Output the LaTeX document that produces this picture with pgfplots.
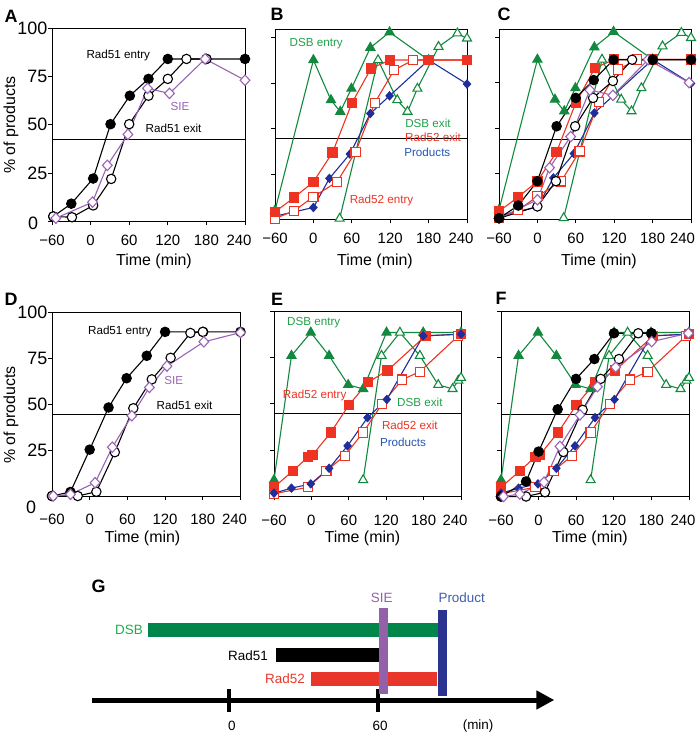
\documentclass[border=0pt]{standalone}
\usepackage{pgfplots}
\pgfplotsset{compat=1.18}
\usepackage{fontspec}
\setmainfont{Liberation Sans}
\usetikzlibrary{arrows.meta}
\definecolor{siec}{HTML}{9B63B5}
\definecolor{dsbc}{HTML}{12893F}
\definecolor{dsbtext}{HTML}{22A04A}
\definecolor{redc}{HTML}{EE3323}
\definecolor{bluec}{HTML}{1F2E9A}
\definecolor{prodtext}{HTML}{2456B4}
\definecolor{gdsb}{HTML}{00854A}
\definecolor{gdsbtext}{HTML}{1DAF4B}
\definecolor{gred}{HTML}{E8372A}
\definecolor{gsie}{HTML}{9460A8}
\definecolor{gprod}{HTML}{2A3390}
\definecolor{gprodtext}{HTML}{3E60AC}
\tikzset{lbl/.style={font=\fontsize{11.7}{12}\selectfont, inner sep=0pt},
  plab/.style={font=\bfseries\fontsize{18}{18}\selectfont, inner sep=0pt},
  tl/.style={font=\fontsize{16}{16}\selectfont, inner sep=0pt},
  gl/.style={font=\fontsize{13.5}{14}\selectfont, inner sep=0pt}}
\pgfplotsset{
  panel/.style={
    scale only axis, anchor=south west,
    xmin=-60, xmax=240, ymin=0,
    axis line style={line width=0.9bp},
    xtick={-60,0,60,120,180,240},
    xticklabels={−60,0,60,120,180,\hspace*{-12bp}240},
    ytick={0,25,50,75,100},
    yticklabels={},
    tick align=outside,
    xtick pos=left, ytick pos=left,
    major tick length=4bp,
    every tick/.style={line width=0.8bp,black},
    xticklabel style={font=\fontsize{15}{15}\selectfont, inner sep=0pt, anchor=center},
    yticklabel style={font=\fontsize{18}{18}\selectfont, inner sep=0pt, anchor=east, xshift=-0.5bp},
    clip=false,
  },
  r51en/.style={black, line width=1.1bp, mark=*, mark size=4.7bp, mark options={solid, fill=black}},
  r51ex/.style={black, line width=1.1bp, mark=*, mark size=4.7bp, mark options={solid, fill=white, line width=1.1bp}},
  sie/.style={siec, line width=1.1bp, mark=diamond*, mark size=5.2bp, mark options={solid, fill=white, line width=1.1bp, xscale=1.25}},
  dsben/.style={dsbc, line width=1.1bp, mark=triangle*, mark size=5.2bp, mark options={solid, fill=dsbc}},
  dsbex/.style={dsbc, line width=1.1bp, mark=triangle*, mark size=5.2bp, mark options={solid, fill=white, line width=1.1bp}},
  r52en/.style={redc, line width=1.1bp, mark=square*, mark size=4.6bp, mark options={solid, fill=redc}},
  r52ex/.style={redc, line width=1.1bp, mark=square*, mark size=4.6bp, mark options={solid, fill=white, line width=1.1bp}},
  prod/.style={bluec, line width=1.1bp, mark=diamond*, mark size=4bp, mark options={solid, fill=bluec, xscale=1.2}},
  hline/.style={black, line width=0.9bp, no markers},
}
\begin{document}
\begin{tikzpicture}
\useasboundingbox (0bp,0bp) rectangle (700bp,734bp);
% ---------------- A ----------------
\begin{axis}[panel, at={(52bp,512.5bp)}, width=193bp, height=193.5bp, ymax=100,
  yticklabels={,25,50,75,100}, xticklabel style={yshift=-15bp}]
\addplot[hline] coordinates {(-60,42.3) (240,42.3)};
\addplot[r51en] coordinates {(-58,2.6) (-30,9.2) (4,22.2) (31,50.3) (61,65) (90,73.7) (120,84) (180,84) (240,84)};
\addplot[r51ex] coordinates {(-58,2.6) (-29,2.2) (4,8.3) (32,22) (60,50.3) (90,65) (120,73.7) (149,84) (180,84)};
\addplot[sie] coordinates {(-54,1.7) (3,10) (26,29) (58,45) (88.5,68.8) (122.6,66.2) (178,84) (240,73)};
\node[lbl] at (axis cs:43,85.8) {Rad51 entry};
\node[lbl, text=siec] at (axis cs:139,59.3) {SIE};
\node[lbl] at (axis cs:129,48) {Rad51 exit};
\end{axis}
% ---------------- B ----------------
\begin{axis}[panel, at={(275bp,514.5bp)}, width=192bp, height=190bp, ymax=104.5,
  xticklabel style={yshift=-15bp}]
\addplot[hline] coordinates {(-60,44.3) (240,44.3)};
\addplot[dsben] coordinates {(-60,5) (0,87.7) (27.4,65.7) (42,59.3) (59.4,72) (89,94.5) (119,103) (180,87.7)};
\addplot[dsbex] coordinates {(41,0.5) (101,87.7) (131,65.7) (147,59.3) (162.5,72) (195.5,95) (225,102.4) (240,99.6)};
\addplot[prod] coordinates {(-60,1.8) (0,6.6) (25,22.6) (57,36) (89,58.3) (119,68) (180,87.7) (240,74.5)};
\addplot[r52ex] coordinates {(-60,0.5) (-30,4.8) (0,12.5) (37,20.7) (66,37.2) (96,64.2) (126,82.2) (156,87.7) (240,87.7)};
\addplot[r52en] coordinates {(-60,4.2) (-30,12.1) (0,20.7) (30,36.9) (60,63.9) (90,83.1) (120,87.7) (180,87.7) (240,87.7)};
\node[lbl, text=dsbtext] at (axis cs:4.4,96.9) {DSB entry};
\node[lbl, text=dsbtext] at (axis cs:179,52.8) {DSB exit};
\node[lbl, text=redc] at (axis cs:187,45.1) {Rad52 exit};
\node[lbl, text=prodtext] at (axis cs:178,36.9) {Products};
\node[lbl, text=redc] at (axis cs:106.5,10.6) {Rad52 entry};
\end{axis}
% ---------------- C ----------------
\begin{axis}[panel, at={(499bp,515bp)}, width=192bp, height=190bp, ymax=104.5,
  xticklabels={−60,0,60,120,180,\hspace*{-17bp}240},
  xticklabel style={yshift=-15bp}]
\addplot[hline] coordinates {(-60,44) (240,44)};
\addplot[dsben] coordinates {(-60,5) (0,87.7) (27.4,65.7) (42,59.3) (59.4,72) (89,94.5) (119,103) (180,87.7)};
\addplot[dsbex] coordinates {(41,0.5) (101,87.7) (131,65.7) (147,59.3) (162.5,72) (195.5,95) (225,102.4) (240,99.6)};
\addplot[prod] coordinates {(-60,1.8) (0,6.6) (25,22.6) (57,36) (89,58.3) (119,68) (180,87.7) (240,74.5)};
\addplot[r52ex] coordinates {(-60,0.5) (-30,4.8) (0,12.5) (37,20.7) (66,37.2) (96,64.2) (126,82.2) (156,87.7) (240,87.7)};
\addplot[r52en] coordinates {(-60,4.2) (-30,12.1) (0,20.7) (30,36.9) (60,63.9) (90,83.1) (120,87.7) (180,87.7) (240,87.7)};
\addplot[r51ex] coordinates {(-60,0.4) (0,6.9) (29,20.8) (59,51) (87,66.6) (118,75.9) (148,87.6) (180,87.6)};
\addplot[sie] coordinates {(-60,0.4) (0,10.6) (19,28.2) (52,45.3) (82,70.9) (118,68) (173,87.6) (237,75)};
\addplot[r51en] coordinates {(-60,0.4) (-30,7.4) (0,20.8) (30,51) (60,66.6) (88,76.4) (119,87.6) (180,87.6) (240,87.6)};
\end{axis}
% ---------------- D ----------------
\begin{axis}[panel, at={(52bp,238bp)}, width=188.5bp, height=184bp, ymax=100,
  yticklabels={,25,50,75,100}, xticklabel style={yshift=-19.5bp}]
\addplot[hline] coordinates {(-60,44.5) (240,44.5)};
\addplot[r51en] coordinates {(-60,0) (-30.6,2.2) (0,25.2) (30,48.1) (58.7,64) (90.8,76.2) (120,89.2) (180.6,89.2) (240,89.2)};
\addplot[r51ex] coordinates {(-60,0) (-19,0) (10.6,2.3) (40,23.8) (69.4,47.7) (98.8,63.4) (128.8,75.1) (160.3,88.6) (180,89.2)};
\addplot[sie] coordinates {(-58,0) (-30.6,0.9) (8.6,7.2) (36,26.5) (67,43.6) (95,59) (123,70.6) (181.7,83.8) (240,88.8)};
\node[lbl] at (axis cs:48,89.5) {Rad51 entry};
\node[lbl, text=siec] at (axis cs:133.6,63) {SIE};
\node[lbl] at (axis cs:151,49.2) {Rad51 exit};
\end{axis}
% ---------------- E ----------------
\begin{axis}[panel, at={(274bp,237.5bp)}, width=187bp, height=185.5bp, ymax=100,
  xticklabel style={yshift=-19.5bp}]
\addplot[hline] coordinates {(-60,44.6) (240,44.6)};
\addplot[dsben] coordinates {(-60,8.9) (-32,75.9) (-1,88.4) (28.4,75.9) (59,60.2) (83,58) (120.5,88.4) (179.4,88.4) (240,88.4)};
\addplot[dsbex] coordinates {(83,8.9) (112.5,75.9) (142,88.4) (174,75.9) (203.5,60.2) (226.5,58) (235.7,62.5) (240,64)};
\addplot[r52ex] coordinates {(-60,1.5) (-5,5) (24,13.9) (53.5,22) (83,34.5) (113.5,50) (145.7,63) (174,67.3) (235.7,86.6)};
\addplot[r52en] coordinates {(-60,5) (-29.5,13.9) (-5,21.4) (1.6,22.3) (31,34.5) (60.5,49.5) (91,61.6) (122,67.9) (183,86.6) (240,87.5)};
\addplot[prod] coordinates {(-60,1.8) (-32,4.5) (-1,6.8) (28.4,15.2) (58,27.3) (90,42.5) (121,52.3) (179.4,86.6) (240,87.5)};
\node[lbl, text=dsbtext] at (axis cs:3.7,93.75) {DSB entry};
\node[lbl, text=redc] at (axis cs:5.3,54.5) {Rad52 entry};
\node[lbl, text=dsbtext] at (axis cs:174,50.5) {DSB exit};
\node[lbl, text=redc] at (axis cs:158,38.4) {Rad52 exit};
\node[lbl, text=prodtext] at (axis cs:147,29.1) {Products};
\end{axis}
% ---------------- F ----------------
\begin{axis}[panel, at={(501bp,237.5bp)}, width=188bp, height=185.5bp, ymax=100,
  xticklabel style={yshift=-19.5bp}]
\addplot[hline] coordinates {(-60,44) (240,44)};
\addplot[dsben] coordinates {(-60,8.9) (-32,75.9) (-1,88.4) (28.4,75.9) (59,60.2) (83,58) (120.5,88.4) (179.4,88.4) (240,88.4)};
\addplot[dsbex] coordinates {(83,8.9) (112.5,75.9) (142,88.4) (174,75.9) (203.5,60.2) (226.5,58) (235.7,62.5) (240,64)};
\addplot[r52ex] coordinates {(-60,1.5) (-5,5) (24,13.9) (53.5,22) (83,34.5) (113.5,50) (145.7,63) (174,67.3) (235.7,86.6)};
\addplot[r52en] coordinates {(-60,5) (-29.5,13.9) (-5,21.4) (1.6,22.3) (31,34.5) (60.5,49.5) (91,61.6) (122,67.9) (183,86.6) (240,87.5)};
\addplot[prod] coordinates {(-60,1.8) (-32,4.5) (-1,6.8) (28.4,15.2) (58,27.3) (90,42.5) (121,52.3) (179.4,86.6) (240,87.5)};
\addplot[r51ex] coordinates {(-60,0) (-20,0) (10.2,2.3) (39.5,24) (70.3,46.7) (99,63.4) (128.3,74.1) (159,88) (180,88)};
\addplot[r51en] coordinates {(-60,0) (-20,8.1) (0,24.2) (30.4,47) (59.7,63.4) (89,74.1) (120.3,88) (180,88)};
\addplot[sie] coordinates {(-56,0) (-30,1.3) (8.6,7.7) (34,27) (66,44) (94,59.2) (123,69.7) (180.4,83.5) (239,88)};
\end{axis}
% ---------------- G ----------------
\begin{axis}[at={(80bp,0bp)}, anchor=south west, scale only axis, width=496.7bp, height=174bp,
  xmin=-60, xmax=140, ymin=560, ymax=734, y dir=reverse, hide axis, clip=false]
\addplot[black, line width=5bp, no markers, -{Triangle[length=18bp,width=18bp]}] coordinates {(-55.3,700) (131,700)};
\addplot[black, line width=4.5bp, no markers] coordinates {(0,689) (0,712)};
\addplot[black, line width=4.5bp, no markers] coordinates {(60,689) (60,712)};
\addplot[gdsb, line width=13.3bp, no markers] coordinates {(-32.6,630) (87.8,630)};
\addplot[black, line width=14bp, no markers] coordinates {(18.9,655.3) (60.4,655.3)};
\addplot[gred, line width=14bp, no markers] coordinates {(33,678.7) (83.9,678.7)};
\addplot[gsie, line width=9bp, no markers] coordinates {(62.3,608.3) (62.3,694)};
\addplot[gprod, line width=9bp, no markers] coordinates {(85.9,610) (85.9,695.7)};
\node[gl, text=gdsbtext, anchor=east] at (axis cs:-34.6,630) {DSB};
\node[gl, anchor=east] at (axis cs:15.7,656) {Rad51};
\node[gl, text=gred, anchor=east] at (axis cs:30.6,678.5) {Rad52};
\node[gl, text=gsie] at (axis cs:61.5,598) {SIE};
\node[gl, text=gprodtext] at (axis cs:93.7,598) {Product};
\node[gl] at (axis cs:1.1,726) {0};
\node[gl] at (axis cs:60.8,726) {60};
\node[gl] at (axis cs:100.3,726) {(min)};
\end{axis}
% ---------------- outside labels ----------------
\node[plab] at (11bp,718bp) {A};
\node[plab] at (277bp,720bp) {B};
\node[plab] at (504bp,720bp) {C};
\node[plab] at (11bp,435bp) {D};
\node[plab] at (277bp,435bp) {E};
\node[plab] at (501bp,436bp) {F};
\node[plab] at (98.5bp,148bp) {G};
\node[tl, rotate=90] at (11bp,609bp) {\% of products};
\node[tl, rotate=90] at (11bp,319bp) {\% of products};
\node[tl] at (154bp,473bp) {Time (min)};
\node[tl] at (375bp,473bp) {Time (min)};
\node[tl] at (599bp,473bp) {Time (min)};
\node[tl] at (142.5bp,195.5bp) {Time (min)};
\node[tl] at (362.5bp,195.5bp) {Time (min)};
\node[tl] at (590bp,195.5bp) {Time (min)};
\node[font=\fontsize{18}{18}\selectfont, inner sep=0pt] at (33bp,511bp) {0};
\node[font=\fontsize{18}{18}\selectfont, inner sep=0pt] at (31bp,227bp) {0};
\end{tikzpicture}
\end{document}
